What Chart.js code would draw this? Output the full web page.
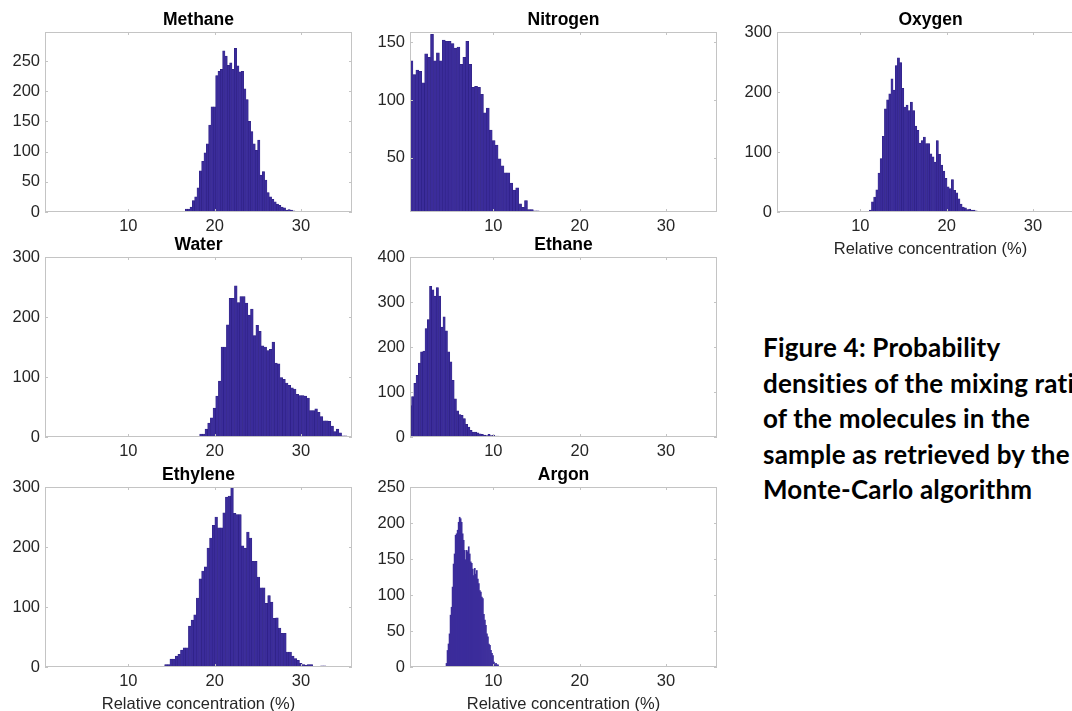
<!DOCTYPE html>
<html lang="en">
<head>
    <meta charset="UTF-8">
    <meta name="viewport" content="width=device-width, initial-scale=1.0">
    <script src="https://cdn.jsdelivr.net/npm/chart.js@4.4.1/dist/chart.umd.min.js"></script>
    <title>Probability densities of the mixing ratios</title>
    <style>
        html, body { margin: 0; padding: 0; background: #fff; }
        body { width: 1072px; height: 711px; overflow: hidden; position: relative; }
        canvas { position: absolute; }
        #caption {
            position: absolute; left: 763px; top: 330px;
            font-family: Lato, "Open Sans", sans-serif; font-weight: bold;
            font-size: 26px; line-height: 35.5px; color: #000; white-space: nowrap;
            font-variant-ligatures: none; letter-spacing: 0.2px;
        }
    </style>
</head>
<body>
    <canvas id="methane"></canvas>
    <canvas id="nitrogen"></canvas>
    <canvas id="oxygen"></canvas>
    <canvas id="water"></canvas>
    <canvas id="ethane"></canvas>
    <canvas id="ethylene"></canvas>
    <canvas id="argon"></canvas>
    <div id="caption">Figure 4: Probability<br>densities of the mixing ratios<br>of the molecules in the<br>sample as retrieved by the<br>Monte-Carlo algorithm</div>

    <script>
        // histogram counts, one value per bin
        const methaneCounts = [5, 5, 8, 19, 25, 40, 68, 84, 98, 113, 144, 174, 174, 226, 233, 236, 267, 258, 243, 247,
            236, 271, 242, 232, 233, 204, 186, 150, 133, 113, 102, 119, 61, 67, 53, 32, 25, 21, 17, 13, 11, 8, 7, 3, 4, 3, 2];
        const nitrogenCounts = [134, 122, 126, 125, 115, 140, 137, 157, 134, 141, 134, 152, 151, 151, 149, 145, 146, 131, 137, 151,
            131, 111, 112, 111, 105, 89, 93, 74, 65, 61, 49, 43, 37, 37, 28, 22, 24, 10, 7, 13, 5, 5, 4, 4];
        const oxygenCounts = [3, 17, 25, 37, 65, 89, 126, 172, 187, 197, 222, 203, 244, 257, 249, 206, 175, 178, 169, 183,
            169, 143, 136, 115, 119, 125, 114, 114, 97, 92, 83, 119, 96, 78, 68, 56, 42, 39, 54, 36, 32, 22, 13, 8, 7, 4, 5, 3, 3, 2];
        const waterCounts = [5, 5, 13, 23, 32, 48, 68, 93, 150, 150, 187, 231, 231, 252, 224, 234, 234, 223, 203, 213,
            169, 186, 176, 152, 150, 144, 146, 158, 123, 122, 99, 96, 90, 86, 82, 80, 71, 69, 69, 68,
            65, 44, 44, 47, 41, 34, 27, 27, 26, 18, 9, 13, 7, 2, 2, 1];
        const ethaneCounts = [70, 90, 119, 137, 164, 189, 191, 241, 261, 335, 327, 313, 332, 313, 244, 267, 236, 189, 167, 126,
            85, 58, 50, 48, 41, 28, 22, 15, 11, 11, 9, 7, 6, 4, 3, 6, 3, 4, 2, 2, 1, 1, 1, 1, 1, 1, 1, 1, 1];
        const ethyleneCounts = [1, 4, 4, 13, 13, 18, 21, 28, 32, 32, 68, 78, 87, 115, 147, 160, 167, 198, 215, 236,
            250, 232, 232, 257, 283, 285, 300, 256, 254, 254, 202, 198, 225, 215, 176, 176, 150, 132, 132, 106,
            119, 108, 81, 82, 65, 56, 56, 25, 25, 18, 14, 11, 6, 4, 3, 4, 4, 1, 1, 0, 2, 2];
        const argonCounts = [5, 23, 32, 46, 72, 83, 111, 143, 157, 183, 185, 190, 201, 208, 206, 201, 185, 176, 162, 149,
            162, 160, 167, 157, 146, 144, 136, 127, 137, 129, 134, 122, 116, 106, 104, 97, 95, 73, 65, 58,
            46, 42, 32, 30, 23, 19, 16, 7, 3, 5, 3, 3];

        // first bin edge and bin width (% concentration) for each gas
        const binStart = { methane: 16.6, nitrogen: 0.35, oxygen: 11.04, water: 18.26, ethane: 0.27, ethylene: 13.9, argon: 4.52 };
        const binWidth = { methane: 0.27, nitrogen: 0.34, oxygen: 0.25, water: 0.31, ethane: 0.26, ethylene: 0.306, argon: 0.117 };

        // axis limits and tick labels
        const xRange = [0.35, 35.9];
        const xTicks = [10, 20, 30];
        const yRange = {
            methane: [0, 298], nitrogen: [3, 159], oxygen: [0, 300], water: [0, 300],
            ethane: [0, 400], ethylene: [0, 300], argon: [0, 250]
        };
        const yTicks = {
            methane: [0, 50, 100, 150, 200, 250],
            nitrogen: [50, 100, 150],
            oxygen: [0, 100, 200, 300],
            water: [0, 100, 200, 300],
            ethane: [0, 100, 200, 300, 400],
            ethylene: [0, 100, 200, 300],
            argon: [0, 50, 100, 150, 200, 250]
        };
        const xLabel = 'Relative concentration (%)';

        const FONT = '"Liberation Sans", Arial, Helvetica, sans-serif';
        const BAR = '#3b2c9b';
        const EDGE = '#2c1f80';
        const AXIS = '#c4c4c4';

        // box around the plot, inward ticks on all sides, and the panel title
        const framePlugin = {
            id: 'frame',
            afterDraw(chart, args, opts) {
                const { ctx, chartArea: a } = chart;
                const x = chart.scales.x, y = chart.scales.y;
                ctx.save();
                ctx.strokeStyle = AXIS;
                ctx.lineWidth = 1;
                ctx.strokeRect(Math.round(a.left) + 0.5, Math.round(a.top) + 0.5, Math.round(a.width) - 1, Math.round(a.height) - 1);
                ctx.beginPath();
                x.ticks.forEach(t => {
                    const px = Math.round(x.getPixelForValue(t.value)) + 0.5;
                    ctx.moveTo(px, a.bottom); ctx.lineTo(px, a.bottom - 3);
                    ctx.moveTo(px, a.top); ctx.lineTo(px, a.top + 3);
                });
                y.ticks.forEach(t => {
                    const py = Math.round(y.getPixelForValue(t.value)) + 0.5;
                    ctx.moveTo(a.left, py); ctx.lineTo(a.left + 3, py);
                    ctx.moveTo(a.right, py); ctx.lineTo(a.right - 3, py);
                });
                ctx.stroke();
                ctx.fillStyle = '#000';
                ctx.font = 'bold 17.5px ' + FONT;
                ctx.textAlign = 'center';
                ctx.textBaseline = 'middle';
                ctx.fillText(opts.text, (a.left + a.right) / 2, a.top - 12);
                ctx.restore();
            }
        };

        function makePanel(id, title, key, plotLeft, plotTop, withLabel) {
            const counts = { methane: methaneCounts, nitrogen: nitrogenCounts, oxygen: oxygenCounts, water: waterCounts,
                ethane: ethaneCounts, ethylene: ethyleneCounts, argon: argonCounts }[key];
            const points = counts.map((c, i) => ({ x: binStart[key] + (i + 0.5) * binWidth[key], y: c }));
            const xh = withLabel ? 50 : 26;
            const canvas = document.getElementById(id);
            canvas.width = 45 + 307 + 6;
            canvas.height = 32 + 180 + xh;
            canvas.style.left = (plotLeft - 45) + 'px';
            canvas.style.top = (plotTop - 32) + 'px';
            const thin = binWidth[key] < 0.2;

            new Chart(canvas, {
                type: 'bar',
                data: {
                    datasets: [{
                        data: points,
                        backgroundColor: BAR,
                        borderColor: EDGE,
                        borderWidth: thin ? 0 : 0.5,
                        barPercentage: 1,
                        categoryPercentage: 1
                    }]
                },
                options: {
                    responsive: false,
                    animation: false,
                    devicePixelRatio: 1,
                    layout: { padding: { top: 32, right: 6, left: 0, bottom: 0 } },
                    plugins: {
                        legend: { display: false },
                        tooltip: { enabled: false },
                        frame: { text: title }
                    },
                    scales: {
                        x: {
                            type: 'linear',
                            offset: false,
                            min: xRange[0],
                            max: xRange[1],
                            grid: { display: false, drawTicks: false },
                            border: { display: false },
                            afterBuildTicks: s => { s.ticks = xTicks.map(v => ({ value: v })); },
                            afterFit: s => { s.height = xh; },
                            ticks: { font: { family: FONT, size: 16.5 }, color: '#262626', padding: 5, maxRotation: 0 },
                            title: {
                                display: withLabel,
                                text: xLabel,
                                font: { family: FONT, size: 16.5 },
                                color: '#262626',
                                padding: { top: 0, bottom: 3 }
                            }
                        },
                        y: {
                            min: yRange[key][0],
                            max: yRange[key][1],
                            grid: { display: false, drawTicks: false },
                            border: { display: false },
                            afterBuildTicks: s => { s.ticks = yTicks[key].map(v => ({ value: v })); },
                            afterFit: s => { s.width = 45; },
                            ticks: { font: { family: FONT, size: 16.5 }, color: '#262626', padding: 5 }
                        }
                    }
                },
                plugins: [framePlugin]
            });
        }

        makePanel('methane', 'Methane', 'methane', 45, 32, false);
        makePanel('nitrogen', 'Nitrogen', 'nitrogen', 410, 32, false);
        makePanel('oxygen', 'Oxygen', 'oxygen', 777, 32, true);
        makePanel('water', 'Water', 'water', 45, 257, false);
        makePanel('ethane', 'Ethane', 'ethane', 410, 257, false);
        makePanel('ethylene', 'Ethylene', 'ethylene', 45, 487, true);
        makePanel('argon', 'Argon', 'argon', 410, 487, true);
    </script>
</body>
</html>
